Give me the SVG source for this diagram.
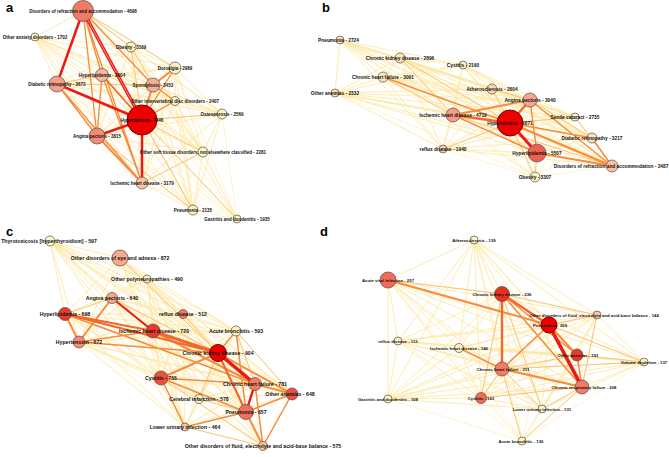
<svg xmlns="http://www.w3.org/2000/svg" width="669" height="457" viewBox="0 0 669 457">
<style>
.f{fill:none;stroke:#fde9a6;stroke-width:0.6;opacity:0.9}
.e{fill:none;stroke-linecap:butt}
.lo{stroke:#fcc57c}
.o{stroke:#f98b3a}
.or{stroke:#f4692a}
.r{stroke:#ec1a12}
circle{stroke:#5a4a40;stroke-width:0.7}
circle.mx{stroke:#7a0000;stroke-width:1}
text{font-family:"Liberation Sans",Arial,sans-serif;font-weight:bold;font-size:4.5px;text-anchor:middle;fill:#111}
#nodes-b text{font-size:4.8px}
#nodes-c text{font-size:5.2px}
#nodes-d text{font-size:4.3px}
#panel-labels text{font-size:13px;text-anchor:start;fill:#000}
</style>
<rect width="669" height="457" fill="#fff"/>
<g id="connectors">
<g id="edges-a">
<path class="f" d="M83 11L35 37 83 11 131 47 83 11 175 68 83 11 102 75 83 11 57 84 83 11 153 85 83 11 175 101 83 11 222 114 83 11 142 120 83 11 97 136 83 11 203 152 83 11 142 183 83 11 193 210 83 11 237 219 M35 37L131 47 35 37 175 68 35 37 102 75 35 37 57 84 35 37 153 85 35 37 175 101 35 37 222 114 35 37 142 120 35 37 97 136 35 37 203 152 35 37 142 183 35 37 193 210 35 37 237 219 M131 47L175 68 131 47 102 75 131 47 57 84 131 47 153 85 131 47 175 101 131 47 222 114 131 47 142 120 131 47 97 136 131 47 203 152 131 47 142 183 131 47 193 210 131 47 237 219 M175 68L102 75 175 68 57 84 175 68 153 85 175 68 175 101 175 68 222 114 175 68 142 120 175 68 97 136 175 68 203 152 175 68 142 183 175 68 193 210 175 68 237 219 M102 75L57 84 102 75 153 85 102 75 175 101 102 75 222 114 102 75 142 120 102 75 97 136 102 75 203 152 102 75 142 183 102 75 193 210 102 75 237 219 M57 84L153 85 57 84 175 101 57 84 222 114 57 84 142 120 57 84 97 136 57 84 203 152 57 84 142 183 57 84 193 210 57 84 237 219 M153 85L175 101 153 85 222 114 153 85 142 120 153 85 97 136 153 85 203 152 153 85 142 183 153 85 193 210 153 85 237 219 M175 101L222 114 175 101 142 120 175 101 97 136 175 101 203 152 175 101 142 183 175 101 193 210 175 101 237 219 M222 114L142 120 222 114 97 136 222 114 203 152 222 114 142 183 222 114 193 210 222 114 237 219 M142 120L97 136 142 120 203 152 142 120 142 183 142 120 193 210 142 120 237 219 M97 136L203 152 97 136 142 183 97 136 193 210 97 136 237 219 M203 152L142 183 203 152 193 210 203 152 237 219 M142 183L193 210 142 183 237 219 M193 210L237 219"/>
<path class="e lo" stroke-width="1" d="M142 120L222 114M142 120L203 152M131 47L142 120M142 120L193 210M142 120L237 219M57 84L102 75M57 84L153 85M83 11L131 47M142 183L203 152M97 136L193 210M83 11L175 68M131 47L153 85"/>
<path class="e o" stroke-width="1.3" d="M83 11L97 136M83 11L102 75M83 11L142 183M57 84L97 136M57 84L142 183M175 68L142 120M175 101L142 120M153 85L175 101M102 75L97 136M83 11L153 85M102 75L142 183"/>
<path class="e o" stroke-width="2" d="M97 136L142 183M153 85L142 120M175 68L153 85"/>
<path class="e or" stroke-width="1.8" d="M102 75L142 120"/>
<path class="e r" stroke-width="2.5" d="M83 11L57 84M57 84L142 120M97 136L142 120M142 120L142 183"/>
<path class="e r" stroke-width="3.4" d="M83 11L142 120"/>
<path class="e" stroke="#fff" stroke-width="0.6" opacity="0.8" d="M83 11L142 120"/>
</g>
<g id="edges-b">
<path class="f" d="M340 40L400 58 340 40 463 65 340 40 383 77 340 40 335 93 340 40 492 89 340 40 530 100 340 40 453 115 340 40 510 123 340 40 575 117 340 40 592 138 340 40 443 149 340 40 537 153 340 40 612 166 340 40 535 177 M400 58L463 65 400 58 383 77 400 58 335 93 400 58 492 89 400 58 530 100 400 58 453 115 400 58 510 123 400 58 575 117 400 58 592 138 400 58 443 149 400 58 537 153 400 58 612 166 400 58 535 177 M463 65L383 77 463 65 335 93 463 65 492 89 463 65 530 100 463 65 453 115 463 65 510 123 463 65 575 117 463 65 592 138 463 65 443 149 463 65 537 153 463 65 612 166 463 65 535 177 M383 77L335 93 383 77 492 89 383 77 530 100 383 77 453 115 383 77 510 123 383 77 575 117 383 77 592 138 383 77 443 149 383 77 537 153 383 77 612 166 383 77 535 177 M335 93L492 89 335 93 530 100 335 93 453 115 335 93 510 123 335 93 575 117 335 93 592 138 335 93 443 149 335 93 537 153 335 93 612 166 335 93 535 177 M492 89L530 100 492 89 453 115 492 89 510 123 492 89 575 117 492 89 592 138 492 89 443 149 492 89 537 153 492 89 612 166 492 89 535 177 M530 100L453 115 530 100 510 123 530 100 575 117 530 100 592 138 530 100 443 149 530 100 537 153 530 100 612 166 530 100 535 177 M453 115L510 123 453 115 575 117 453 115 592 138 453 115 443 149 453 115 537 153 453 115 612 166 453 115 535 177 M510 123L575 117 510 123 592 138 510 123 443 149 510 123 537 153 510 123 612 166 510 123 535 177 M575 117L592 138 575 117 443 149 575 117 537 153 575 117 612 166 575 117 535 177 M592 138L443 149 592 138 537 153 592 138 612 166 592 138 535 177 M443 149L537 153 443 149 612 166 443 149 535 177 M537 153L612 166 537 153 535 177 M612 166L535 177"/>
<path class="e lo" stroke-width="1" d="M510 123L575 117M510 123L535 177M537 153L535 177M400 58L510 123M492 89L510 123M383 77L453 115M530 100L592 138M575 117L612 166M453 115L612 166M443 149L510 123M400 58L453 115M492 89L530 100"/>
<path class="e o" stroke-width="1.4" d="M592 138L612 166M510 123L592 138M530 100L537 153M383 77L510 123M453 115L537 153M530 100L612 166"/>
<path class="e o" stroke-width="2" d="M453 115L530 100M510 123L612 166M537 153L612 166"/>
<path class="e or" stroke-width="2.3" d="M453 115L510 123M530 100L510 123"/>
<path class="e r" stroke-width="3" d="M510 123L537 153"/>
</g>
<g id="edges-c">
<path class="f" d="M50 241L120 258 50 241 147 279 50 241 112 298 50 241 65 314 50 241 183 314 50 241 153 331 50 241 236 331 50 241 79 342 50 241 218 353 50 241 161 378 50 241 255 384 50 241 292 394 50 241 199 399 50 241 246 412 50 241 185 427 50 241 263 446 M120 258L147 279 120 258 112 298 120 258 65 314 120 258 183 314 120 258 153 331 120 258 236 331 120 258 79 342 120 258 218 353 120 258 161 378 120 258 255 384 120 258 292 394 120 258 199 399 120 258 246 412 120 258 185 427 120 258 263 446 M147 279L112 298 147 279 65 314 147 279 183 314 147 279 153 331 147 279 236 331 147 279 79 342 147 279 218 353 147 279 161 378 147 279 255 384 147 279 292 394 147 279 199 399 147 279 246 412 147 279 185 427 147 279 263 446 M112 298L65 314 112 298 183 314 112 298 153 331 112 298 236 331 112 298 79 342 112 298 218 353 112 298 161 378 112 298 255 384 112 298 292 394 112 298 199 399 112 298 246 412 112 298 185 427 112 298 263 446 M65 314L183 314 65 314 153 331 65 314 236 331 65 314 79 342 65 314 218 353 65 314 161 378 65 314 255 384 65 314 292 394 65 314 199 399 65 314 246 412 65 314 185 427 65 314 263 446 M183 314L153 331 183 314 236 331 183 314 79 342 183 314 218 353 183 314 161 378 183 314 255 384 183 314 292 394 183 314 199 399 183 314 246 412 183 314 185 427 183 314 263 446 M153 331L236 331 153 331 79 342 153 331 218 353 153 331 161 378 153 331 255 384 153 331 292 394 153 331 199 399 153 331 246 412 153 331 185 427 153 331 263 446 M236 331L79 342 236 331 218 353 236 331 161 378 236 331 255 384 236 331 292 394 236 331 199 399 236 331 246 412 236 331 185 427 236 331 263 446 M79 342L218 353 79 342 161 378 79 342 255 384 79 342 292 394 79 342 199 399 79 342 246 412 79 342 185 427 79 342 263 446 M218 353L161 378 218 353 255 384 218 353 292 394 218 353 199 399 218 353 246 412 218 353 185 427 218 353 263 446 M161 378L255 384 161 378 292 394 161 378 199 399 161 378 246 412 161 378 185 427 161 378 263 446 M255 384L292 394 255 384 199 399 255 384 246 412 255 384 185 427 255 384 263 446 M292 394L199 399 292 394 246 412 292 394 185 427 292 394 263 446 M199 399L246 412 199 399 185 427 199 399 263 446 M246 412L185 427 246 412 263 446 M185 427L263 446"/>
<path class="e lo" stroke-width="1" d="M199 399L218 353M236 331L255 384M161 378L263 446M185 427L263 446M199 399L246 412M112 298L218 353M236 331L292 394M65 314L112 298M120 258L218 353M183 314L218 353"/>
<path class="e o" stroke-width="1.5" d="M79 342L218 353M246 412L292 394M292 394L263 446M255 384L263 446M161 378L185 427M161 378L246 412M185 427L246 412M236 331L246 412M236 331L218 353M161 378L255 384M79 342L153 331M65 314L255 384"/>
<path class="e o" stroke-width="2" d="M79 342L112 298M65 314L79 342M153 331L255 384M161 378L218 353M255 384L292 394M218 353L292 394M246 412L263 446"/>
<path class="e or" stroke-width="2.2" d="M65 314L218 353M65 314L153 331M218 353L246 412"/>
<path class="e or" stroke-width="3" d="M153 331L218 353"/>
<path class="e r" stroke-width="2" d="M112 298L153 331"/>
<path class="e r" stroke-width="2.4" d="M255 384L246 412"/>
<path class="e r" stroke-width="3.5" d="M218 353L255 384"/>
</g>
<g id="edges-d">
<path class="f" d="M474 240L388 280 474 240 502 294 474 240 597 315 474 240 549 325 474 240 398 341 474 240 459 348 474 240 577 355 474 240 644 362 474 240 502 369 474 240 582 387 474 240 388 399 474 240 481 398 474 240 542 409 474 240 522 441 M388 280L502 294 388 280 597 315 388 280 549 325 388 280 398 341 388 280 459 348 388 280 577 355 388 280 644 362 388 280 502 369 388 280 582 387 388 280 388 399 388 280 481 398 388 280 542 409 388 280 522 441 M502 294L597 315 502 294 549 325 502 294 398 341 502 294 459 348 502 294 577 355 502 294 644 362 502 294 502 369 502 294 582 387 502 294 388 399 502 294 481 398 502 294 542 409 502 294 522 441 M597 315L549 325 597 315 398 341 597 315 459 348 597 315 577 355 597 315 644 362 597 315 502 369 597 315 582 387 597 315 388 399 597 315 481 398 597 315 542 409 597 315 522 441 M549 325L398 341 549 325 459 348 549 325 577 355 549 325 644 362 549 325 502 369 549 325 582 387 549 325 388 399 549 325 481 398 549 325 542 409 549 325 522 441 M398 341L459 348 398 341 577 355 398 341 644 362 398 341 502 369 398 341 582 387 398 341 388 399 398 341 481 398 398 341 542 409 398 341 522 441 M459 348L577 355 459 348 644 362 459 348 502 369 459 348 582 387 459 348 388 399 459 348 481 398 459 348 542 409 459 348 522 441 M577 355L644 362 577 355 502 369 577 355 582 387 577 355 388 399 577 355 481 398 577 355 542 409 577 355 522 441 M644 362L502 369 644 362 582 387 644 362 388 399 644 362 481 398 644 362 542 409 644 362 522 441 M502 369L582 387 502 369 388 399 502 369 481 398 502 369 542 409 502 369 522 441 M582 387L388 399 582 387 481 398 582 387 542 409 582 387 522 441 M388 399L481 398 388 399 542 409 388 399 522 441 M481 398L542 409 481 398 522 441 M542 409L522 441"/>
<path class="e lo" stroke-width="1" d="M597 315L582 387M549 325L644 362M502 369L644 362M502 369L481 398M502 294L481 398M549 325L597 315M502 294L597 315M502 369L577 355M582 387L542 409M522 441L502 369M522 441L582 387M577 355L644 362M582 387L481 398M502 369L542 409M502 294L542 409M388 280L502 294"/>
<path class="e o" stroke-width="1.5" d="M459 348L502 369M502 294L577 355M549 325L502 369M577 355L582 387M502 294L582 387"/>
<path class="e o" stroke-width="2" d="M388 280L549 325M502 369L582 387M549 325L577 355"/>
<path class="e or" stroke-width="2.4" d="M502 294L549 325M502 294L502 369"/>
<path class="e r" stroke-width="3.6" d="M549 325L582 387"/>
</g>
</g>
<g id="panel-labels">
<text x="6" y="12">a</text>
<text x="322" y="12">b</text>
<text x="6" y="236">c</text>
<text x="320" y="236">d</text>
</g>
<g id="nodes">
<g id="nodes-a">
<g id="a-refraction"><circle cx="83" cy="11" r="10.5" fill="#f07a65"/><text x="83" y="12.6">Disorders of refraction and accommodation - 4698</text></g>
<g id="a-anxiety"><circle cx="35" cy="37" r="4" fill="#fcf8cc"/><text x="35" y="38.6">Other anxiety disorders - 1702</text></g>
<g id="a-obesity"><circle cx="131" cy="47" r="5" fill="#fcf3c4"/><text x="131" y="48.6">Obesity - 3169</text></g>
<g id="a-dorsalgia"><circle cx="175" cy="68" r="6" fill="#fbefc0"/><text x="175" y="69.6">Dorsalgia - 2989</text></g>
<g id="a-hyperlipidemia"><circle cx="102" cy="75" r="6.5" fill="#f8b8a0"/><text x="102" y="76.6">Hyperlipidemia - 2604</text></g>
<g id="a-diabetic"><circle cx="57" cy="84" r="8" fill="#f5a08a"/><text x="57" y="85.6">Diabetic retinopathy - 3673</text></g>
<g id="a-spondylosis"><circle cx="153" cy="85" r="7" fill="#f7ae96"/><text x="153" y="86.6">Spondylosis - 3453</text></g>
<g id="a-intervertebral"><circle cx="175" cy="101" r="4.5" fill="#fcf3c4"/><text x="175" y="102.6">Other intervertebral disc disorders - 2407</text></g>
<g id="a-osteoporosis"><circle cx="222" cy="114" r="5" fill="#fcf3c4"/><text x="222" y="115.6">Osteoporosis - 2569</text></g>
<g id="a-hypertension"><circle class="mx" cx="142" cy="120" r="15" fill="#ee0000"/><text x="142" y="121.6">Hypertension - 7946</text></g>
<g id="a-angina"><circle cx="97" cy="136" r="8" fill="#f18c74"/><text x="97" y="137.6">Angina pectoris - 3815</text></g>
<g id="a-softtissue"><circle cx="203" cy="152" r="5" fill="#fcf6c8"/><text x="203" y="153.6">Other soft tissue disorders, not elsewhere classified - 2281</text></g>
<g id="a-ischemic"><circle cx="142" cy="183" r="6" fill="#f9c4a8"/><text x="142" y="184.6">Ischemic heart disease - 3179</text></g>
<g id="a-pneumonia"><circle cx="193" cy="210" r="5" fill="#fcf1c0"/><text x="193" y="211.6">Pneumonia - 2135</text></g>
<g id="a-gastritis"><circle cx="237" cy="219" r="4" fill="#fcf6c8"/><text x="237" y="220.6">Gastritis and duodenitis - 1935</text></g>
</g>
<g id="nodes-b">
<g id="b-pneumonia"><circle cx="340" cy="40" r="4" fill="#fae8b8"/><text x="338.5" y="41.7">Pneumonia - 2724</text></g>
<g id="b-ckd"><circle cx="400" cy="58" r="5" fill="#fae8b8"/><text x="400" y="59.7">Chronic kidney disease - 2896</text></g>
<g id="b-cystitis"><circle cx="463" cy="65" r="4" fill="#fcf4c8"/><text x="463" y="66.7">Cystitis - 2190</text></g>
<g id="b-chf"><circle cx="383" cy="77" r="5" fill="#fbeabb"/><text x="383" y="78.7">Chronic heart failure - 3091</text></g>
<g id="b-anemias"><circle cx="335" cy="93" r="4" fill="#fae2b4"/><text x="335" y="94.7">Other anemias - 2332</text></g>
<g id="b-atherosclerosis"><circle cx="492" cy="89" r="5" fill="#f8d8b0"/><text x="492" y="90.7">Atherosclerosis - 2604</text></g>
<g id="b-angina"><circle cx="530" cy="100" r="7" fill="#f6a690"/><text x="530" y="101.7">Angina pectoris - 3040</text></g>
<g id="b-ischemic"><circle cx="453" cy="115" r="7" fill="#f49c86"/><text x="453" y="116.7">Ischemic heart disease - 4719</text></g>
<g id="b-hypertension"><circle class="mx" cx="510" cy="123" r="13" fill="#ee0000"/><text x="510" y="124.7">Hypertension - 6871</text></g>
<g id="b-cataract"><circle cx="575" cy="117" r="4" fill="#fcf4c8"/><text x="575" y="118.7">Senile cataract - 2735</text></g>
<g id="b-diabetic"><circle cx="592" cy="138" r="5" fill="#fbe6bc"/><text x="592" y="139.7">Diabetic retinopathy - 3217</text></g>
<g id="b-reflux"><circle cx="443" cy="149" r="4" fill="#f8c8a8"/><text x="443" y="150.7">reflux disease - 1940</text></g>
<g id="b-hyperlipidemia"><circle cx="537" cy="153" r="9" fill="#f06050"/><text x="537" y="154.7">Hyperlipidemia - 5507</text></g>
<g id="b-refraction"><circle cx="612" cy="166" r="6" fill="#f9c0a0"/><text x="611" y="167.7">Disorders of refraction and accommodation - 3487</text></g>
<g id="b-obesity"><circle cx="535" cy="177" r="5" fill="#fcf2c6"/><text x="535" y="178.7">Obesity - 3307</text></g>
</g>
<g id="nodes-c">
<g id="c-thyrotoxicosis"><circle cx="50" cy="241" r="5" fill="#fcf8cc"/><text x="49" y="243">Thyrotoxicosis [hyperthyroidism] - 597</text></g>
<g id="c-eye"><circle cx="120" cy="258" r="8" fill="#f6a890"/><text x="120" y="259.8">Other disorders of eye and adnexa - 872</text></g>
<g id="c-polyneuropathies"><circle cx="147" cy="279" r="4" fill="#fcf6c8"/><text x="147" y="280.8">Other polyneuropathies - 490</text></g>
<g id="c-angina"><circle cx="112" cy="298" r="5.5" fill="#f7a890"/><text x="112" y="299.8">Angina pectoris - 640</text></g>
<g id="c-hyperlipidemia"><circle cx="65" cy="314" r="6.5" fill="#e83a2c"/><text x="65" y="315.8">Hyperlipidemia - 698</text></g>
<g id="c-reflux"><circle cx="183" cy="314" r="4.5" fill="#f27a66"/><text x="183" y="315.8">reflux disease - 512</text></g>
<g id="c-ischemic"><circle cx="153" cy="331" r="7" fill="#e8392c"/><text x="154" y="332.8">Ischemic heart disease - 720</text></g>
<g id="c-bronchitis"><circle cx="236" cy="331" r="5" fill="#fcf3c6"/><text x="236" y="332.8">Acute bronchitis - 593</text></g>
<g id="c-hypertension"><circle cx="79" cy="342" r="6" fill="#f48a74"/><text x="79" y="343.8">Hypertension - 672</text></g>
<g id="c-ckd"><circle class="mx" cx="218" cy="353" r="8.5" fill="#ee0000"/><text x="218" y="354.8">Chronic kidney disease - 904</text></g>
<g id="c-cystitis"><circle cx="161" cy="378" r="7" fill="#ee5040"/><text x="161" y="379.8">Cystitis - 755</text></g>
<g id="c-chf"><circle cx="255" cy="384" r="6.5" fill="#f27a66"/><text x="255" y="385.8">Chronic heart failure - 781</text></g>
<g id="c-anemias"><circle cx="292" cy="394" r="6" fill="#ee5040"/><text x="290" y="395.8">Other anemias - 648</text></g>
<g id="c-cerebral"><circle cx="199" cy="399" r="4.5" fill="#fcf6c8"/><text x="199" y="400.8">Cerebral infarction - 578</text></g>
<g id="c-pneumonia"><circle cx="246" cy="412" r="7.5" fill="#f07060"/><text x="246" y="413.8">Pneumonia - 657</text></g>
<g id="c-urinary"><circle cx="185" cy="427" r="4" fill="#f8c8a8"/><text x="185" y="428.8">Lower urinary infection - 464</text></g>
<g id="c-fluid"><circle cx="263" cy="446" r="4.5" fill="#f8c8a8"/><text x="263" y="447.8">Other disorders of fluid, electrolyte and acid-base balance - 575</text></g>
</g>
<g id="nodes-d">
<g id="d-atherosclerosis"><circle cx="474" cy="240" r="4" fill="#fcf8cc"/><text x="474" y="241.5">Atherosclerosis - 139</text></g>
<g id="d-viral"><circle cx="388" cy="280" r="8" fill="#f26b58"/><text x="388" y="281.5">Acute viral infection - 257</text></g>
<g id="d-ckd"><circle cx="502" cy="294" r="7.5" fill="#e8301f"/><text x="502" y="295.5">Chronic kidney disease - 236</text></g>
<g id="d-fluid"><circle cx="597" cy="315" r="4" fill="#f8c8a8"/><text x="594" y="316.5">Other disorders of fluid, electrolyte and acid-base balance - 144</text></g>
<g id="d-pneumonia"><circle class="mx" cx="549" cy="325" r="8" fill="#ee0000"/><text x="550" y="326.5">Pneumonia - 269</text></g>
<g id="d-reflux"><circle cx="398" cy="341" r="4" fill="#fcf6c8"/><text x="398" y="342.5">reflux disease - 113</text></g>
<g id="d-ischemic"><circle cx="459" cy="348" r="4.5" fill="#fcf6c8"/><text x="459" y="349.5">Ischemic heart disease - 146</text></g>
<g id="d-anemias"><circle cx="577" cy="355" r="6" fill="#e83a2c"/><text x="578" y="356.5">Other anemias - 191</text></g>
<g id="d-volume"><circle cx="644" cy="362" r="4" fill="#fcf6c8"/><text x="644" y="363.5">Volume depletion - 137</text></g>
<g id="d-chf"><circle cx="502" cy="369" r="7" fill="#f27a66"/><text x="503" y="370.5">Chronic heart failure - 211</text></g>
<g id="d-respiratory"><circle cx="582" cy="387" r="7" fill="#f27a66"/><text x="584" y="388.5">Chronic respiratory failure - 208</text></g>
<g id="d-gastritis"><circle cx="388" cy="399" r="4" fill="#fcf6c8"/><text x="388" y="400.5">Gastritis and duodenitis - 108</text></g>
<g id="d-cystitis"><circle cx="481" cy="398" r="5.5" fill="#f06a58"/><text x="481" y="399.5">Cystitis - 163</text></g>
<g id="d-urinary"><circle cx="542" cy="409" r="4" fill="#fcf1c8"/><text x="542" y="410.5">Lower urinary infection - 131</text></g>
<g id="d-bronchitis"><circle cx="522" cy="441" r="4" fill="#fcf6c8"/><text x="521" y="442.5">Acute bronchitis - 136</text></g>
</g>
</g>
</svg>
